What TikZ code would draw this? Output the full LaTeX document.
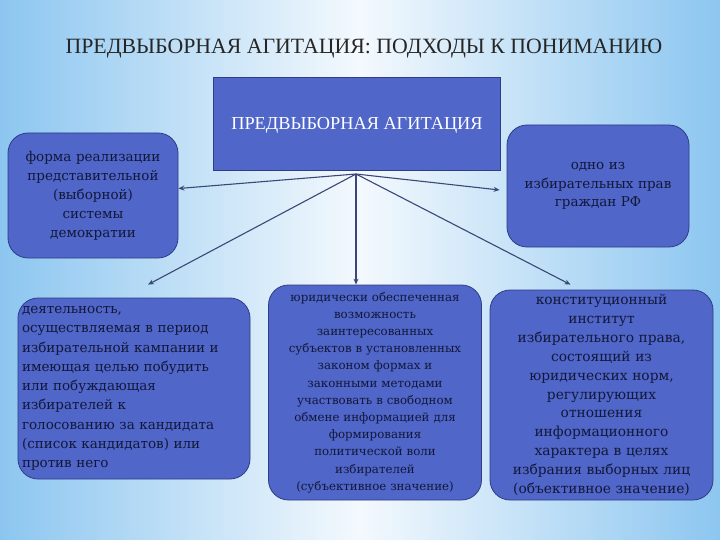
\documentclass[tikz,border=0pt]{standalone}
\usepackage{fontspec}
\setmainfont{DejaVu Serif}
\newfontfamily\titlefont{Liberation Serif}
\usetikzlibrary{arrows.meta}
\definecolor{bgedge}{HTML}{8CC6F0}
\definecolor{bgmid}{HTML}{F4F9FD}
\definecolor{boxfill}{HTML}{5066C8}
\definecolor{boxline}{HTML}{2E3D86}
\definecolor{boxtext}{HTML}{12183A}
\definecolor{conncol}{HTML}{3A4878}
\tikzset{
  rbox/.style={draw=boxline, line width=0.8pt, fill=boxfill, rounded corners=20pt,
    text=boxtext, inner xsep=4pt, inner ysep=2pt},
  conn/.style={draw=conncol, line width=1.1pt, -{Stealth[length=6pt,width=5pt]}},
}
\begin{document}
\begin{tikzpicture}[x=1pt,y=-1pt]
\useasboundingbox (0,0) rectangle (720,540);
\shade[left color=bgedge, right color=bgedge, middle color=bgmid] (0,0) rectangle (720,540);

\node[font=\titlefont\fontsize{21.8}{25}\selectfont, text=black!85] (title) at (364,49)
  {ПРЕДВЫБОРНАЯ АГИТАЦИЯ: ПОДХОДЫ К ПОНИМАНИЮ};

\node[draw=boxline, line width=0.6pt, fill=boxfill, minimum width=287pt, minimum height=93pt,
  inner sep=0pt] (main) at (356.5,123.5) {};
\node[text=white, font=\titlefont\fontsize{18.3}{21}\selectfont] (maintext) at (357,125) {ПРЕДВЫБОРНАЯ АГИТАЦИЯ};

\node[rbox, minimum width=170pt, minimum height=125pt, text width=162pt, align=center,
  font=\fontsize{13.5}{19}\selectfont] (left1) at (93,195.5)
  {форма реализации\\представительной\\(выборной)\\системы\\демократии};

\node[rbox, minimum width=182pt, minimum height=122pt, text width=174pt, align=center,
  font=\fontsize{13.5}{18.5}\selectfont] (right1) at (598,186)
  {\raisebox{-5pt}{\parbox{174pt}{\centering одно из\\избирательных прав\\граждан РФ}}};

\node[rbox, minimum width=232pt, minimum height=181pt, text width=224pt, align=left,
  font=\fontsize{13.5}{19.3}\selectfont] (bl) at (134,388.5)
  {деятельность,\\осуществляемая в период\\избирательной кампании и\\имеющая целью побудить\\или побуждающая\\избирателей к\\голосованию за кандидата\\(список кандидатов) или\\против него};

\node[rbox, minimum width=213pt, minimum height=215pt, text width=209pt, align=center,
  inner xsep=2pt, font=\fontsize{11.8}{17.2}\selectfont] (bc) at (375,392.5)
  {юридически обеспеченная\\возможность\\заинтересованных\\субъектов в установленных\\законом формах и\\законными методами\\участвовать в свободном\\обмене информацией для\\формирования\\политической воли\\избирателей\\(субъективное значение)};

\node[rbox, minimum width=223pt, minimum height=210pt, text width=217pt, align=center,
  inner xsep=3pt, font=\fontsize{13.8}{18.9}\selectfont] (br) at (601.5,395)
  {конституционный\\институт\\избирательного права,\\состоящий из\\юридических норм,\\регулирующих\\отношения\\информационного\\характера в целях\\избрания выборных лиц\\(объективное значение)};

\coordinate (hub) at (356,174);
\draw[conn] (hub) -- (left1);
\draw[conn] (hub) -- ([xshift=-7pt,yshift=-4pt]right1.west);
\draw[conn] (hub) -- ([xshift=14pt,yshift=13pt]bl.north);
\draw[conn] (hub) -- (bc.north -| hub);
\draw[conn] (hub) -- ([xshift=-31pt,yshift=5pt]br.north);
\end{tikzpicture}
\end{document}
